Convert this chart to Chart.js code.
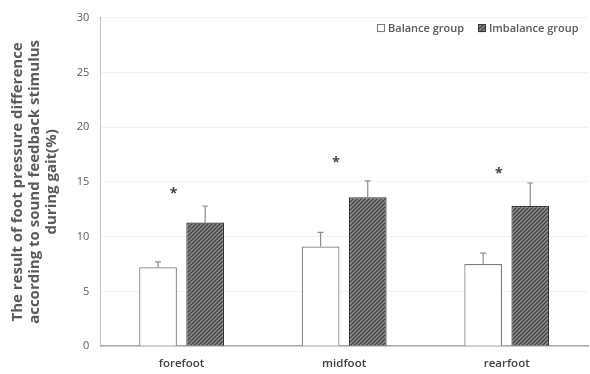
<!DOCTYPE html>
<html>
<head>
<meta charset="utf-8">
<script src="https://cdn.jsdelivr.net/npm/chart.js@4.4.0/dist/chart.umd.min.js"></script>
<style>
  html, body { margin: 0; padding: 0; background: #fff; }
  #wrap { width: 590px; height: 374px; }
</style>
</head>
<body>
<div id="wrap"><canvas id="grafico"></canvas></div>
<script>
// dados
var categorias = ['forefoot', 'midfoot', 'rearfoot'];
var balance = [7.2, 9.1, 7.5];
var balanceErro = [0.5, 1.3, 1.0];
var imbalance = [11.3, 13.6, 12.8];
var imbalanceErro = [1.5, 1.5, 2.1];
var asteriscos = [14.2, 17.0, 16.0];
var ticksY = [0, 5, 10, 15, 20, 25, 30];

var cinza = '#595959';

function hachura() {
    var c = document.createElement('canvas');
    c.width = 4; c.height = 4;
    var g = c.getContext('2d');
    g.fillStyle = '#8a8a8a';
    g.fillRect(0, 0, 4, 4);
    g.strokeStyle = '#3a3a3a';
    g.lineWidth = 1.2;
    g.beginPath();
    g.moveTo(0, 4); g.lineTo(4, 0);
    g.moveTo(-1, 1); g.lineTo(1, -1);
    g.moveTo(3, 5); g.lineTo(5, 3);
    g.stroke();
    return g.createPattern(c, 'repeat');
}

var erros = [balanceErro, imbalanceErro];

var pluginErros = {
    id: 'erros',
    afterDatasetsDraw: function (chart) {
        var ctx = chart.ctx;
        var y = chart.scales.y;
        var x = chart.scales.x;
        ctx.save();
        ctx.strokeStyle = '#8c8c8c';
        ctx.lineWidth = 1.2;
        chart.data.datasets.forEach(function (ds, i) {
            var meta = chart.getDatasetMeta(i);
            meta.data.forEach(function (bar, j) {
                var topo = y.getPixelForValue(ds.data[j] + erros[i][j]);
                ctx.beginPath();
                ctx.moveTo(bar.x, bar.y);
                ctx.lineTo(bar.x, topo);
                ctx.moveTo(bar.x - 3, topo);
                ctx.lineTo(bar.x + 3, topo);
                ctx.stroke();
            });
        });
        // asteriscos
        ctx.fillStyle = '#404040';
        ctx.font = 'bold 14px "Open Sans"';
        ctx.textAlign = 'center';
        ctx.textBaseline = 'middle';
        asteriscos.forEach(function (v, j) {
            ctx.fillText('*', x.getPixelForValue(j) - 8, y.getPixelForValue(v) + 3);
        });

        // legenda
        ctx.font = '600 11px "Open Sans"';
        ctx.textAlign = 'left';
        ctx.textBaseline = 'middle';
        var ly = y.getPixelForValue(29.0);
        var itens = [
            { x: 377, texto: 'Balance group', ds: chart.data.datasets[0] },
            { x: 478, texto: 'Imbalance group', ds: chart.data.datasets[1] }
        ];
        itens.forEach(function (it) {
            ctx.fillStyle = it.ds.backgroundColor;
            ctx.fillRect(it.x, ly - 4.5, 8, 8);
            ctx.strokeStyle = it.ds.borderColor;
            ctx.lineWidth = 1;
            ctx.strokeRect(it.x + 0.5, ly - 4, 7, 7);
            ctx.fillStyle = cinza;
            ctx.fillText(it.texto, it.x + 11, ly);
        });
        ctx.restore();
    }
};

var ctx = document.getElementById('grafico').getContext('2d');
var myChart = new Chart(ctx, {
    type: 'bar',
    data: {
        labels: categorias,
        datasets: [{
            label: 'Balance group',
            data: balance,
            backgroundColor: '#ffffff',
            borderColor: '#7a7a7a',
            borderWidth: 1.2,
            borderSkipped: 'bottom',
            categoryPercentage: 0.58,
            barPercentage: 0.8
        }, {
            label: 'Imbalance group',
            data: imbalance,
            backgroundColor: hachura(),
            borderColor: '#333333',
            borderWidth: 1.2,
            borderSkipped: 'bottom',
            categoryPercentage: 0.58,
            barPercentage: 0.8
        }]
    },
    options: {
        responsive: true,
        maintainAspectRatio: false,
        animation: false,
        layout: { padding: { top: 4, right: 2, bottom: 0, left: 9 } },
        plugins: {
            tooltip: { enabled: false },
            legend: { display: false }
        },
        scales: {
            x: {
                grid: { display: false },
                border: { color: '#a6a6a6', width: 1.5 },
                ticks: { color: '#404040', font: { family: '"Open Sans"', size: 11.5, weight: '600' }, padding: 3 }
            },
            y: {
                min: 0,
                max: 30,
                afterBuildTicks: function (axis) {
                    axis.ticks = ticksY.map(function (v) { return { value: v }; });
                },
                grid: { color: '#f2f2f2', drawTicks: false },
                border: { color: '#bfbfbf', width: 1 },
                ticks: { color: cinza, font: { family: '"Open Sans"', size: 11 }, padding: 11 },
                title: {
                    display: true,
                    text: ['The result of foot pressure difference', 'according to sound feedback stimulus', 'during gait(%)'],
                    color: cinza,
                    font: { family: '"Open Sans"', size: 15, weight: 'bold', lineHeight: 1.15 },
                    padding: { top: 0, bottom: 5 }
                }
            }
        }
    },
    plugins: [pluginErros]
});
</script>
</body>
</html>
